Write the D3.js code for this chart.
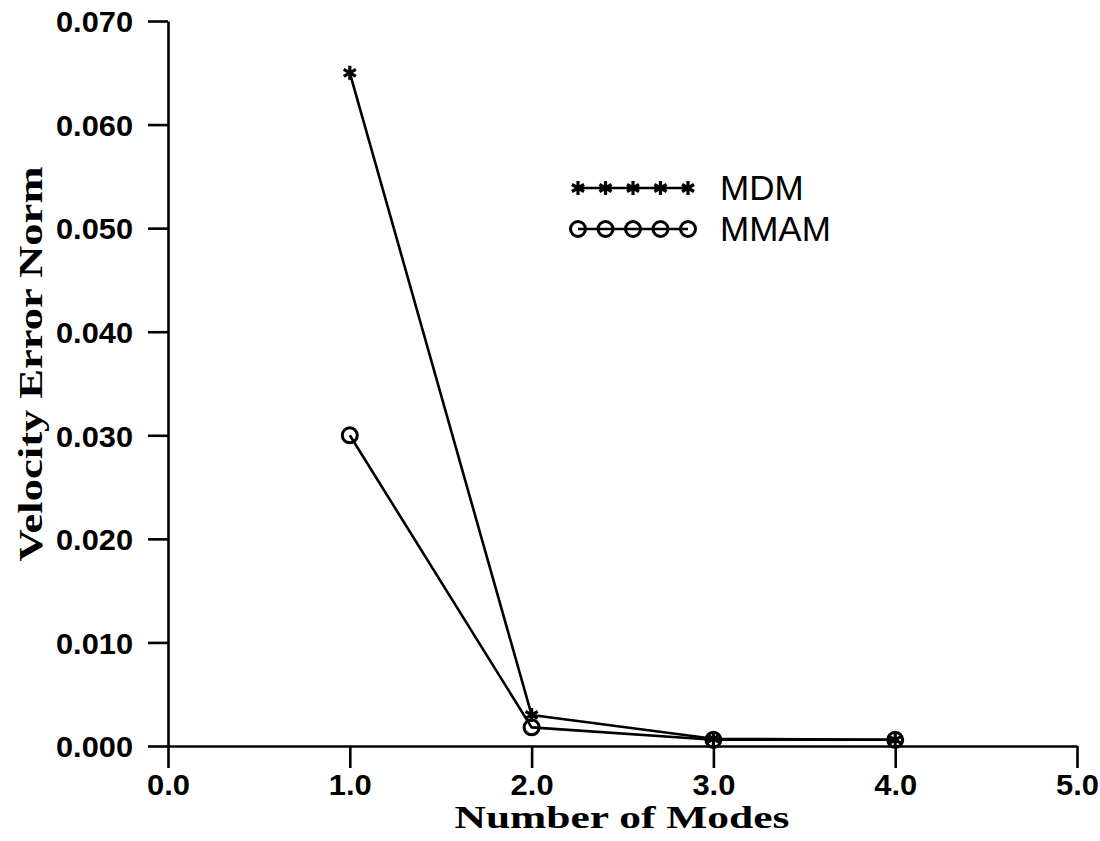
<!DOCTYPE html>
<html><head><meta charset="utf-8">
<script src="https://cdn.jsdelivr.net/npm/d3@7"></script>
<style>body{margin:0;background:#fff}svg{display:block}</style>
</head><body>
<svg id="c" width="1100" height="841"></svg>
<script>
const modes = [1, 2, 3, 4];
const mdm = [0.065, 0.0030, 0.0007, 0.0006];
const mmam = [0.030, 0.0018, 0.0006, 0.0006];
const xTicks = [0, 1, 2, 3, 4, 5];
const yTicks = [0, 0.01, 0.02, 0.03, 0.04, 0.05, 0.06, 0.07];
const seriesNames = ["MDM", "MMAM"];
const xTitle = "Number of Modes";
const yTitle = "Velocity Error Norm";

const svg = d3.select("#c");
const x = d3.scaleLinear().domain([0, 5]).range([168, 1077]);
const y = d3.scaleLinear().domain([0, 0.07]).range([746, 21]);
const ink = "#000";

// axes
const xAxis = svg.append("g").attr("transform", `translate(0,${y(0)})`)
  .call(d3.axisBottom(x).tickValues(xTicks).tickSize(22).tickSizeOuter(0).tickFormat(d3.format(".1f")));
const yAxis = svg.append("g").attr("transform", `translate(${x(0)},0)`)
  .call(d3.axisLeft(y).tickValues(yTicks).tickSize(20).tickSizeOuter(0).tickFormat(d3.format(".3f")));
[xAxis, yAxis].forEach(g => {
  g.select(".domain").attr("stroke", ink).attr("stroke-width", 2.6);
  g.selectAll(".tick line").attr("stroke", ink).attr("stroke-width", 2.6);
  g.selectAll("text").attr("fill", ink).attr("font-family", "Liberation Sans, Arial, sans-serif")
    .attr("font-weight", "bold").attr("font-size", 30).attr("lengthAdjust", "spacingAndGlyphs");
});
xAxis.selectAll(".tick text").attr("y", 28).attr("dy", "0.71em").attr("textLength", 43);
yAxis.selectAll(".tick text").attr("x", -35).attr("dy", "0.36em").attr("textLength", 77);

// lines
const line = d3.line().x((d, i) => x(modes[i])).y(d => y(d));
[mdm, mmam].forEach(s => {
  svg.append("path").datum(s).attr("d", line).attr("fill", "none")
    .attr("stroke", ink).attr("stroke-width", 2.6).attr("stroke-linejoin", "round");
});

function star(g, cx, cy) {
  const r = 7;
  let d = "";
  for (let k = 0; k < 3; k++) {
    const a = Math.PI / 2 + k * Math.PI / 3;
    d += `M${cx + r * Math.cos(a)},${cy + r * Math.sin(a)}L${cx - r * Math.cos(a)},${cy - r * Math.sin(a)}`;
  }
  g.append("path").attr("d", d).attr("stroke", ink).attr("stroke-width", 3.2).attr("fill", "none");
}
function ring(g, cx, cy) {
  g.append("circle").attr("cx", cx).attr("cy", cy).attr("r", 7.5)
    .attr("fill", "none").attr("stroke", ink).attr("stroke-width", 3);
}
const mk = svg.append("g");
mdm.forEach((v, i) => star(mk, x(modes[i]), y(v)));
mmam.forEach((v, i) => ring(mk, x(modes[i]), y(v)));

// legend
const lg = svg.append("g");
const lx0 = 578, lx1 = 688, ly = [188, 229];
const markers = [star, ring];
seriesNames.forEach((nm, k) => {
  lg.append("line").attr("x1", lx0).attr("x2", lx1).attr("y1", ly[k]).attr("y2", ly[k])
    .attr("stroke", ink).attr("stroke-width", 2.6);
  for (let j = 0; j < 5; j++) markers[k](lg, lx0 + j * (lx1 - lx0) / 4, ly[k]);
  lg.append("text").attr("x", 720).attr("y", ly[k] + 12).text(nm)
    .attr("font-family", "Liberation Sans, Arial, sans-serif").attr("font-size", 35).attr("fill", ink);
});

// titles
svg.append("text").attr("x", 622).attr("y", 828).attr("text-anchor", "middle")
  .attr("font-family", "Liberation Serif, Times New Roman, serif").attr("font-weight", "bold")
  .attr("font-size", 31).attr("textLength", 335).attr("lengthAdjust", "spacingAndGlyphs")
  .attr("fill", ink).text(xTitle);
svg.append("text").attr("transform", "translate(42,364) rotate(-90)").attr("text-anchor", "middle")
  .attr("font-family", "Liberation Serif, Times New Roman, serif").attr("font-weight", "bold")
  .attr("font-size", 34).attr("textLength", 395).attr("lengthAdjust", "spacingAndGlyphs")
  .attr("fill", ink).text(yTitle);
</script>
</body></html>
